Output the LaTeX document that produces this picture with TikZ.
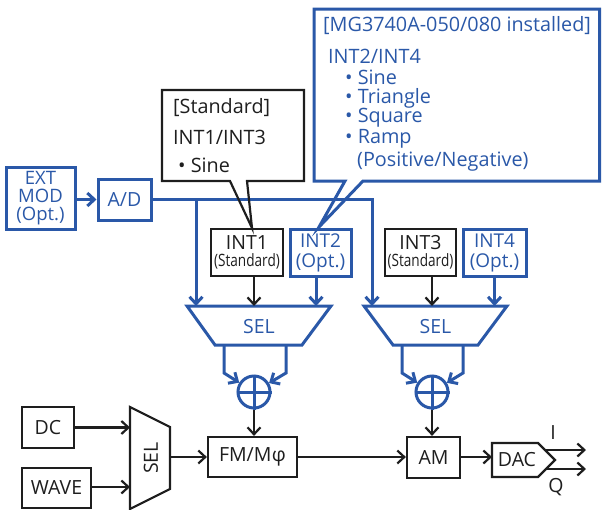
\documentclass[tikz,border=0pt]{standalone}
\usepackage{fontspec}
\setmainfont{Open Sans}
\usetikzlibrary{arrows.meta}
\definecolor{blu}{RGB}{42,88,168}
\definecolor{blk}{RGB}{30,30,30}
\newcommand{\fsz}[1]{\fontsize{#1}{#1}\selectfont}
\newcommand{\cond}[1]{\scalebox{0.8}[1]{#1}}
\tikzset{
  bl/.style={draw=blu, line width=3pt, text=blu},
  bk/.style={draw=blk, line width=2.2pt, text=blk},
  box/.style={align=center, inner sep=0pt, font=\fsz{19.5}},
  arr/.style={-{Straight Barb[length=7pt,width=13pt]}},
  txt/.style={inner sep=0pt, anchor=west, font=\fsz{19.8}},
}
\begin{document}
\begin{tikzpicture}[x=1pt,y=-1pt,line join=miter]
\useasboundingbox (0,0) rectangle (602,509);

% input chain
\node[bl,box,minimum width=69,minimum height=62,font=\fontsize{18.5}{18}\selectfont] (ext) at (40.5,198) {EXT\\MOD\\(Opt.)};
\node[bl,box,minimum width=53,minimum height=41] (ad) at (124.5,199.5) {A/D};
\draw[bl,arr] (ext.east |- ad) -- (ad.west);

% INT boxes
\node[bk,box,minimum width=72,minimum height=47,font=\fontsize{19.5}{18}\selectfont] (int1) at (247,252.5) {INT1\\[-1pt]{\fsz{17}\cond{(Standard)}}};
\node[bl,box,minimum width=61,minimum height=47,font=\fontsize{19}{20}\selectfont] (int2) at (320.5,252.5) {INT2\\(Opt.)};
\node[bk,box,minimum width=71,minimum height=47,font=\fontsize{19.5}{18}\selectfont] (int3) at (420.5,252.5) {INT3\\[-1pt]{\fsz{17}\cond{(Standard)}}};
\node[bl,box,minimum width=63,minimum height=47,font=\fontsize{19}{20}\selectfont] (int4) at (494.5,252.5) {INT4\\(Opt.)};

% selectors (modulation)
\coordinate (s1a) at (187,306); \coordinate (s1b) at (331,306);
\coordinate (s1c) at (302,345); \coordinate (s1d) at (215,345);
\draw[bl] (s1a) -- (s1b) -- (s1c) -- (s1d) -- cycle;
\node[box,text=blu] (sel1) at (259,326.5) {SEL};
\coordinate (s2a) at (364,306); \coordinate (s2b) at (507,306);
\coordinate (s2c) at (478,345); \coordinate (s2d) at (393,345);
\draw[bl] (s2a) -- (s2b) -- (s2c) -- (s2d) -- cycle;
\node[box,text=blu] (sel2) at (435.5,326.5) {SEL};

% adders
\node[bl,circle,minimum size=32,inner sep=0pt] (c1) at (254,392) {};
\draw[bl] (c1.north) -- (c1.south) (c1.west) -- (c1.east);
\node[bl,circle,minimum size=32,inner sep=0pt] (c2) at (432,392) {};
\draw[bl] (c2.north) -- (c2.south) (c2.west) -- (c2.east);

% A/D distribution
\coordinate (a1) at (196,306);
\coordinate (a2) at (372,306);
\draw[bl,arr] (ad.east) -| (a2);
\draw[bl,arr] (ad.east -| a1) -- (a1);

% INT arrows
\draw[bk,arr] (int1.south -| c1) -- (c1 |- s1a);
\draw[bl,arr] ([xshift=-4.5pt]int2.south) -- ([xshift=-4.5pt]int2.south |- s1a);
\draw[bk,arr] (int3.south -| c2) -- (c2 |- s2a);
\draw[bl,arr] (int4.south) -- (int4.south |- s2a);

% SEL outputs into adders
\coordinate (k1) at (224,373); \coordinate (k2) at (286,373);
\coordinate (k3) at (402,373); \coordinate (k4) at (463,373);
\draw[bl,arr] (k1 |- s1d) -- (k1) -- (c1);
\draw[bl,arr] (k2 |- s1d) -- (k2) -- (c1);
\draw[bl,arr] (k3 |- s2d) -- (k3) -- (c2);
\draw[bl,arr] (k4 |- s2d) -- (k4) -- (c2);

% lower chain
\node[bk,box,minimum width=52,minimum height=41] (dc) at (48,427.5) {DC};
\node[bk,box,minimum width=69,minimum height=40] (wave) at (56.5,488) {WAVE};
\coordinate (t1) at (130,407); \coordinate (t2) at (170,427);
\coordinate (t3) at (170,489); \coordinate (t4) at (130,509);
\draw[bk] (t1) -- (t2) -- (t3) -- (t4) -- cycle;
\node[box,text=blk,rotate=90] (sel3) at (151,458) {SEL};
\draw[bk,arr] (dc.east) -- (dc.east -| t1);
\draw[bk,arr] (wave.east |- 0,487) -- (t1 |- 0,487);

\node[bk,box,minimum width=89,minimum height=40] (fm) at (252.5,457) {FM/M\kern0.5pt φ};
\node[bk,box,minimum width=53,minimum height=41] (am) at (433.5,457.5) {AM};
\draw[bk,arr] (t2 |- fm) -- (fm.west);
\draw[bk,arr] (c1) -- (c1 |- fm.north);
\draw[bk,arr] (c2) -- (c2 |- am.north);
\draw[bk,arr] (fm.east) -- (fm.east -| am.west);

% DAC
\coordinate (d1) at (492,443); \coordinate (d2) at (538,443);
\coordinate (d3) at (555,460); \coordinate (d4) at (538,477);
\coordinate (d5) at (492,477);
\draw[bk] (d1) -- (d2) -- (d3) -- (d4) -- (d5) -- cycle;
\node[box,text=blk] (dac) at (517,460) {DAC};
\draw[bk,arr] (am.east |- 0,457) -- (d1 |- 0,457);
\coordinate (iout) at (586,450); \coordinate (qout) at (586,469);
\draw[bk,arr] (545,450) -- (iout);
\draw[bk,arr] (546,469) -- (qout);
\node[box,text=blk] (ilab) at (553,433) {I};
\node[box,text=blk] (qlab) at (556,487) {Q};

% standard callout
\coordinate (p1) at (162,90); \coordinate (p2) at (304,90);
\coordinate (p3) at (304,181); \coordinate (p4) at (162,181);
\draw[bk] (p1) -- (p2) -- (p3) -- (247,181) -- (252,228) -- (230,181) -- (p4) -- cycle;
\node[txt,text=blk] (st1) at (173,108) {[Standard]};
\node[txt,text=blk] (st2) at (173,137) {INT1/INT3};
\node[txt,text=blk] (st3) at (178,165) {• Sine};

% option callout
\coordinate (q1) at (314,9); \coordinate (q2) at (599.5,9);
\coordinate (q3) at (599.5,181); \coordinate (q4) at (314,181);
\draw[bl] (q1) -- (q2) -- (q3) -- (363,181) -- (319,227) -- (345,181) -- (q4) -- cycle;
\node[txt,text=blu] (o1) at (323,26) {[MG3740A-050/080 installed]};
\node[txt,text=blu] (o2) at (328,56) {INT2/INT4};
\node[txt,text=blu] (o3) at (345,77) {• Sine};
\node[txt,text=blu] (o4) at (345,98) {• Triangle};
\node[txt,text=blu] (o5) at (345,118) {• Square};
\node[txt,text=blu] (o6) at (345,139) {• Ramp};
\node[txt,text=blu] (o7) at (357,162) {(Positive/Negative)};
\end{tikzpicture}
\end{document}
